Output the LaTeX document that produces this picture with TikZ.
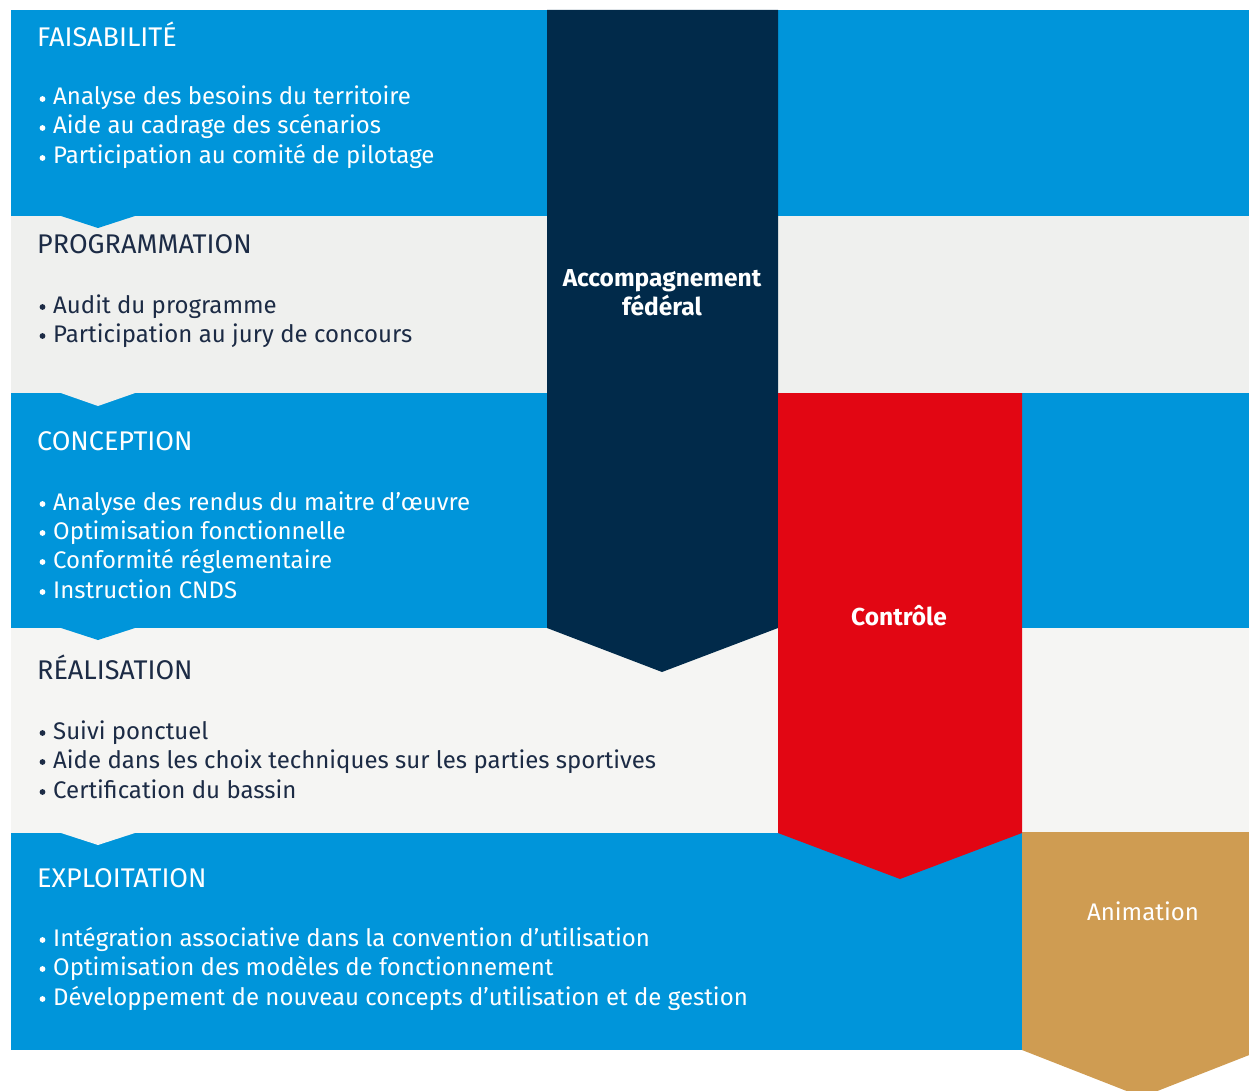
\documentclass[tikz,border=0pt]{standalone}
\usepackage{fontspec}
\setmainfont{Fira Sans}
\definecolor{bandblue}{HTML}{0095DA}
\definecolor{greyA}{HTML}{EFF0EE}
\definecolor{greyB}{HTML}{F5F5F3}
\definecolor{navy}{HTML}{012A4A}
\definecolor{redc}{HTML}{E20613}
\definecolor{tan}{HTML}{CF9C52}
\definecolor{darktext}{HTML}{1C2B45}
\tikzset{
  head/.style={anchor=base west, inner sep=0pt, font=\fontsize{27}{30}\selectfont},
  item/.style={anchor=base west, inner sep=0pt, font=\fontsize{24}{28}\selectfont},
  onblue/.style={text=white},
  ongrey/.style={text=darktext},
  biglabel/.style={anchor=base, inner sep=0pt, text=white, align=center, font=\fontsize{24.5}{29}\selectfont\bfseries},
}
\begin{document}
\begin{tikzpicture}[x=1pt,y=-1pt]
\useasboundingbox (0,0) rectangle (1249,1091);
\clip (0,0) rectangle (1249,1091);
\fill[white] (0,0) rectangle (1249,1091);
% bands
\fill[bandblue] (11,10) rectangle (1249,216);
\fill[greyA] (11,216) rectangle (1249,393);
\fill[bandblue] (11,393) rectangle (1249,628);
\fill[greyB] (11,628) rectangle (1249,833);
\fill[bandblue] (11,833) rectangle (1249,1050);
% chevrons
\fill[bandblue] (58,215) -- (138,215) -- (98,228) -- cycle;
\fill[greyA] (58,392) -- (138,392) -- (98,406) -- cycle;
\fill[bandblue] (58,627) -- (138,627) -- (98,640) -- cycle;
\fill[greyB] (58,832) -- (138,832) -- (98,845) -- cycle;
% big arrows
\fill[navy] (547,10) -- (778,10) -- (778,628) -- (662,672) -- (547,628) -- cycle;
\fill[redc] (778,393) -- (1022,393) -- (1022,833) -- (900,879) -- (778,833) -- cycle;
\fill[tan] (1022,832) -- (1262,832) -- (1262,1050) -- (1142,1097) -- (1022,1050) -- cycle;
\node[biglabel] (acc) at (662,315) {Accompagnement\\fédéral};
\node[biglabel] (ctrl) at (899,625) {Contrôle};
\node[biglabel, font=\fontsize{24}{28}\selectfont] (anim) at (1143,920) {Animation};
% band 1
\node[head,onblue] (h1) at (37,47) {FAISABILITÉ};
\node[item,onblue] (a1) at (53,105) {Analyse des besoins du territoire};
\node[item,onblue] (a2) at (53,134) {Aide au cadrage des scénarios};
\node[item,onblue] (a3) at (53,164) {Participation au comité de pilotage};
% band 2
\node[head,ongrey] (h2) at (37,254) {PROGRAMMATION};
\node[item,ongrey] (b1) at (53,313) {Audit du programme};
\node[item,ongrey] (b2) at (53,342) {Participation au jury de concours};
% band 3
\node[head,onblue] (h3) at (37,450) {CONCEPTION};
\node[item,onblue] (c1) at (53,510) {Analyse des rendus du maitre d’œuvre};
\node[item,onblue] (c2) at (53,539) {Optimisation fonctionnelle};
\node[item,onblue] (c3) at (53,568) {Conformité réglementaire};
\node[item,onblue] (c4) at (53,598) {Instruction CNDS};
% band 4
\node[head,ongrey] (h4) at (37,679) {RÉALISATION};
\node[item,ongrey] (d1) at (53,739) {Suivi ponctuel};
\node[item,ongrey] (d2) at (53,768) {Aide dans les choix techniques sur les parties sportives};
\node[item,ongrey] (d3) at (53,798) {Certification du bassin};
% band 5
\node[head,onblue] (h5) at (37,887) {EXPLOITATION};
\node[item,onblue] (e1) at (53,946) {Intégration associative dans la convention d’utilisation};
\node[item,onblue] (e2) at (53,975) {Optimisation des modèles de fonctionnement};
\node[item,onblue] (e3) at (53,1005) {Développement de nouveau concepts d’utilisation et de gestion};
% bullets
\foreach \n in {a1,a2,a3,c1,c2,c3,c4,e1,e2,e3}
  \fill[white] ([xshift=-10.5pt,yshift=6pt]\n.base west) circle (2.9pt);
\foreach \n in {b1,b2,d1,d2,d3}
  \fill[darktext] ([xshift=-10.5pt,yshift=6pt]\n.base west) circle (2.9pt);
\end{tikzpicture}
\end{document}
